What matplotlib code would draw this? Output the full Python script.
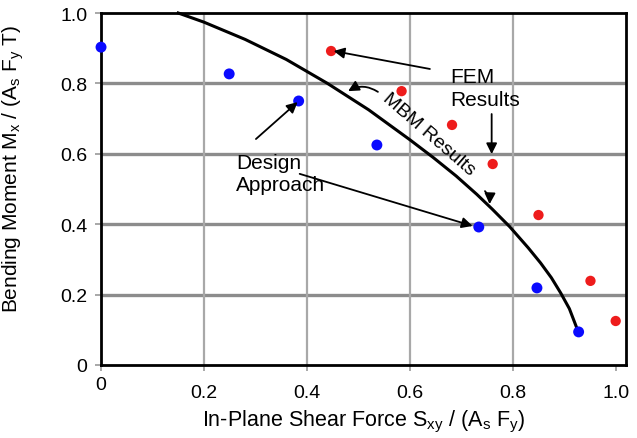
import matplotlib
matplotlib.use('Agg')
import matplotlib.pyplot as plt
from matplotlib.transforms import ScaledTranslation

plt.rcParams['font.family'] = ['Liberation Sans', 'DejaVu Sans']
plt.rcParams['mathtext.fontset'] = 'custom'
plt.rcParams['mathtext.rm'] = 'Liberation Sans'
plt.rcParams['mathtext.it'] = 'Liberation Sans'

# Design approach (blue) and FEM results (red)
design_x = [0.0, 0.249, 0.384, 0.536, 0.734, 0.847, 0.928]
design_y = [0.903, 0.827, 0.750, 0.625, 0.392, 0.219, 0.094]
fem_x = [0.447, 0.584, 0.682, 0.761, 0.850, 0.951, 1.0]
fem_y = [0.892, 0.778, 0.682, 0.571, 0.426, 0.239, 0.125]

# MBM interaction curve
mbm_x = [0.15, 0.20, 0.28, 0.36, 0.44, 0.52, 0.60, 0.645, 0.69, 0.73, 0.76, 0.794, 0.83, 0.854, 0.875, 0.893, 0.91, 0.925]
mbm_y = [1.0, 0.974, 0.925, 0.868, 0.80, 0.725, 0.64, 0.59, 0.537, 0.485, 0.443, 0.393, 0.333, 0.29, 0.248, 0.205, 0.16, 0.103]

xticks = [0, 0.2, 0.4, 0.6, 0.8, 1.0]
xticklabels = ['0', '0.2', '0.4', '0.6', '0.8', '1.0']
yticks = [0, 0.2, 0.4, 0.6, 0.8, 1.0]
yticklabels = ['0', '0.2', '0.4', '0.6', '0.8', '1.0']

fig = plt.figure(figsize=(6.37, 4.39), dpi=100)
ax = fig.add_axes([0.1586, 0.1663, 0.9827 - 0.1586, 0.9681 - 0.1663])

# grid: horizontal darker, vertical lighter
for y in yticks[1:-1]:
    ax.axhline(y, color='#8c8c8c', linewidth=2.4, zorder=1)
for x in xticks[1:-1]:
    ax.axvline(x, color='#a8a8a8', linewidth=1.6, zorder=1)

ax.plot(mbm_x, mbm_y, color='black', linewidth=2.2, zorder=3, clip_on=False, solid_joinstyle='round')
ax.scatter(design_x, design_y, s=62, color='#0a0aff', zorder=4, clip_on=False, edgecolors='none')
ax.scatter(fem_x, fem_y, s=55, color='#ee1c1c', zorder=4, clip_on=False, edgecolors='none')

ax.set_xlim(0, 1.02)
ax.set_ylim(0, 1.0)
ax.set_xticks(xticks)
ax.set_xticklabels(xticklabels)
ax.set_yticks(yticks)
ax.set_yticklabels(yticklabels)
ax.tick_params(labelsize=14, length=4, width=1.2, color='#999999', pad=6)
ax.tick_params(axis='x', pad=10)
for s in ax.spines.values():
    s.set_linewidth(2)
    s.set_color('black')

# the x "0" sits a bit higher than the others
lab0 = ax.get_xticklabels()[0]
lab0.set_transform(lab0.get_transform() + ScaledTranslation(0, 0.08, fig.dpi_scale_trans))

ax.set_xlabel('In-Plane Shear Force S$_\\mathregular{xy}$ / (A$_\\mathregular{s}$ F$_\\mathregular{y}$)',
              fontsize=15.5, labelpad=5)
ax.set_ylabel('Bending Moment M$_\\mathregular{x}$ / (A$_\\mathregular{s}$ F$_\\mathregular{y}$ T)',
              fontsize=15)
ax.yaxis.set_label_coords(-0.143, 0.56)

arrow = dict(arrowstyle='-|>', color='black', linewidth=1.3, mutation_scale=16, shrinkA=0, shrinkB=0)

# FEM Results
ax.text(0.678, 0.788, 'FEM\nResults', fontsize=15, ha='left', va='center', linespacing=1.25, zorder=5)
ax.annotate('', xy=(0.452, 0.892), xytext=(0.639, 0.841), arrowprops=arrow, zorder=5)
ax.annotate('', xy=(0.759, 0.599), xytext=(0.759, 0.713), arrowprops=arrow, zorder=5)

# MBM Results
ax.text(0.637, 0.656, 'MBM Results', fontsize=14, rotation=-41, ha='center', va='center',
        rotation_mode='anchor', zorder=5)
ax.annotate('', xy=(0.480, 0.778), xytext=(0.538, 0.776),
            arrowprops=dict(arrow, connectionstyle='arc3,rad=0.3'), zorder=5)
ax.annotate('', xy=(0.755, 0.457), xytext=(0.746, 0.494),
            arrowprops=dict(arrow, connectionstyle='arc3,rad=-0.2'), zorder=5)

# Design Approach
ax.text(0.262, 0.543, 'Design\nApproach', fontsize=15, ha='left', va='center', linespacing=1.2, zorder=5)
ax.annotate('', xy=(0.382, 0.747), xytext=(0.301, 0.642), arrowprops=arrow, zorder=5)
ax.annotate('', xy=(0.722, 0.395), xytext=(0.386, 0.543), arrowprops=arrow, zorder=5)

fig.savefig('out.png', dpi=100)
